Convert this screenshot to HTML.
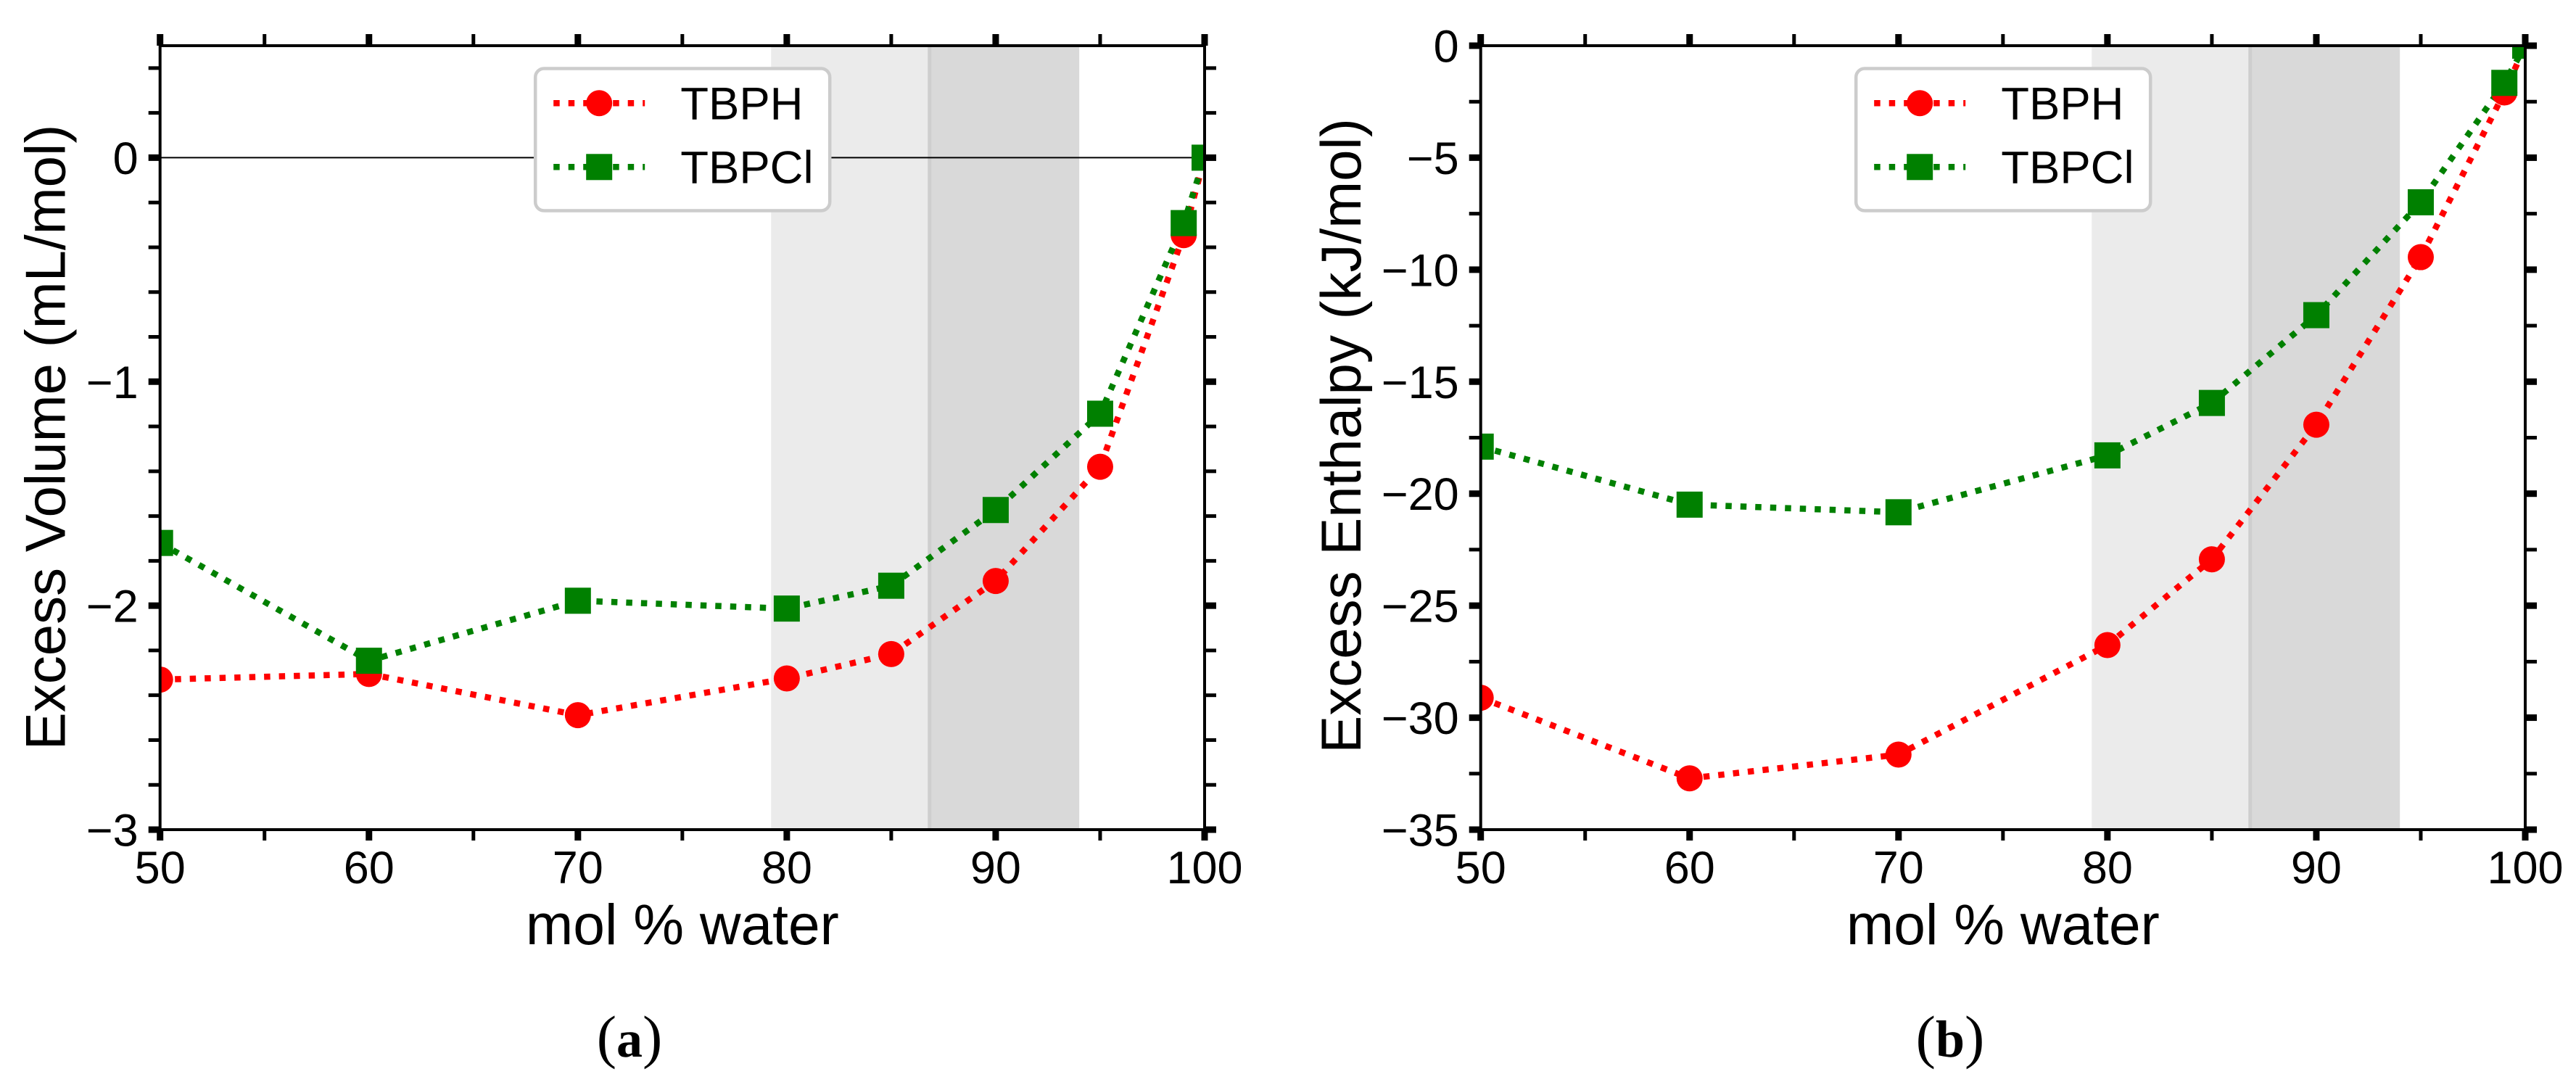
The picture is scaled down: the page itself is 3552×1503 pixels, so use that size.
<!DOCTYPE html>
<html lang="en">
<head>
<meta charset="utf-8">
<title>Excess Volume and Excess Enthalpy vs mol % water</title>
<style>
html,body{margin:0;padding:0;background:#fff;}
svg{display:block;}
text{font-family:"Liberation Sans",Arial,sans-serif;fill:#000;}
.cap{font-family:"Liberation Serif","Times New Roman",serif;}
</style>
</head>
<body>
<svg id="figure" xmlns="http://www.w3.org/2000/svg" width="3552" height="1503" viewBox="0 0 3552 1503"></svg>
<script>
// ---- shared data ----
const waterPct = [50, 60, 70, 80, 85, 90, 95, 99, 100];
const xTickLabels = [50, 60, 70, 80, 90, 100];
const bandLight = [79.25, 86.8];
const bandDark = [86.8, 94];

// ---- panel (a) ----
const volumeTBPH = [-2.33, -2.305, -2.489, -2.325, -2.216, -1.89, -1.38, -0.346, 0];
const volumeTBPCl = [-1.72, -2.246, -1.978, -2.013, -1.911, -1.573, -1.143, -0.292, 0];
const volumeTickLabels = [0, -1, -2, -3];

// ---- panel (b) ----
const enthalpyTBPH = [-29.11, -32.71, -31.65, -26.76, -22.93, -16.92, -9.44, -2.09, 0];
const enthalpyTBPCl = [-17.9, -20.49, -20.83, -18.29, -15.95, -12.03, -6.99, -1.66, 0];
const enthalpyTickLabels = [0, -5, -10, -15, -20, -25, -30, -35];

const SVG_NS = 'http://www.w3.org/2000/svg';
const root = document.getElementById('figure');
const TOP = 63, BOTTOM = 1144, PLOT_W = 1440.3;

function mk(tag, attrs, parent) {
  const el = document.createElementNS(SVG_NS, tag);
  for (const k in attrs) el.setAttribute(k, attrs[k]);
  (parent || root).appendChild(el);
  return el;
}

function seq(start, end, step) {
  const out = [];
  const n = Math.round((end - start) / step);
  for (let i = 0; i <= n; i++) out.push(start + i * step);
  return out;
}

function drawPanel(opt) {
  const g = mk('g', {});
  
  

  const left = opt.left, right = left + PLOT_W;
  const xScale = v => left + (v - 50) / 50 * PLOT_W;
  const yScale = v => TOP + (opt.yMax - v) / (opt.yMax - opt.yMin) * (BOTTOM - TOP);

  const clipId = opt.id + '-clip';
  const defs = mk('defs', {}, g);
  const cp = mk('clipPath', { id: clipId }, defs);
  mk('rect', { x: left, y: TOP, width: PLOT_W, height: BOTTOM - TOP }, cp);

  // shaded composition bands
  const b1 = mk('rect', { x: xScale(bandLight[0]), y: TOP, width: xScale(bandLight[1]) - xScale(bandLight[0]), height: BOTTOM - TOP, fill: '#ebebeb' }, g);
  
  
  const b2 = mk('rect', { x: xScale(bandDark[0]), y: TOP, width: xScale(bandDark[1]) - xScale(bandDark[0]), height: BOTTOM - TOP, fill: '#d9d9d9' }, g);
  
  
  const b3 = mk('rect', { x: xScale(bandDark[0]) - 1.5, y: TOP, width: 5, height: BOTTOM - TOP, fill: '#cecece' }, g);
  
  

  if (opt.zeroLine) {
    const z = mk('line', { x1: left, x2: right, y1: yScale(0), y2: yScale(0), stroke: '#000', 'stroke-width': 2 }, g);
    
    
  }

  // series
  const plot = mk('g', { 'clip-path': 'url(#' + clipId + ')' }, g);
  const series = [
    { name: 'tbph', values: opt.tbph, color: '#ff0000', marker: 'circle' },
    { name: 'tbpcl', values: opt.tbpcl, color: '#008000', marker: 'square' }
  ];
  series.forEach(s => {
    const pts = s.values.map((v, i) => xScale(waterPct[i]).toFixed(1) + ',' + yScale(v).toFixed(1)).join(' ');
    const line = mk('polyline', { points: pts, fill: 'none', stroke: s.color, 'stroke-width': 8.5, 'stroke-dasharray': '8.5 12' }, plot);
    
    
  });
  series.forEach(s => {
    s.values.forEach((v, i) => {
      const cx = xScale(waterPct[i]), cy = yScale(v);
      const m = s.marker === 'circle'
        ? mk('circle', { cx: cx, cy: cy, r: 18, fill: s.color }, plot)
        : mk('rect', { x: cx - 18, y: cy - 18, width: 36, height: 36, fill: s.color }, plot);
      
      
    });
  });

  // legend
  const lx = left + 515.5;
  const lg = mk('g', {}, g);
  
  
  mk('rect', { x: lx + 2, y: 94.5, width: 406, height: 196, rx: 12, ry: 12, fill: '#fff', stroke: '#cccccc', 'stroke-width': 4.5 }, lg);
  const legendItems = [
    { label: 'TBPH', y: 142.3, color: '#ff0000', marker: 'circle', name: 'legend-entry-tbph' },
    { label: 'TBPCl', y: 230.3, color: '#008000', marker: 'square', name: 'legend-entry-tbpcl' }
  ];
  legendItems.forEach(it => {
    const e = mk('g', {}, lg);
    
    
    mk('line', { x1: lx + 27, x2: lx + 153, y1: it.y, y2: it.y, stroke: it.color, 'stroke-width': 8.5, 'stroke-dasharray': '8.5 12' }, e);
    if (it.marker === 'circle') mk('circle', { cx: lx + 90, cy: it.y, r: 18, fill: it.color }, e);
    else mk('rect', { x: lx + 72, y: it.y - 18, width: 36, height: 36, fill: it.color }, e);
    const t = mk('text', { x: lx + 202, y: it.y + 22, 'font-size': 63.5 }, e);
    t.textContent = it.label;
  });

  // ticks
  const ticks = mk('g', { stroke: '#000', fill: 'none' }, g);
  
  
  seq(50, 100, 5).forEach(v => {
    const major = v % 10 === 0;
    const x = xScale(v), w = major ? 9 : 5;
    mk('line', { x1: x, x2: x, y1: BOTTOM, y2: BOTTOM + 15, 'stroke-width': w }, ticks);
    mk('line', { x1: x, x2: x, y1: TOP, y2: TOP - 16, 'stroke-width': w }, ticks);
  });
  seq(0, Math.round((opt.yTickTop - opt.yMin) / opt.yMinorStep), 1).forEach(i => {
    const v = opt.yMin + i * opt.yMinorStep;
    const major = i % opt.yMinorPerMajor === 0;
    const y = yScale(v), w = major ? 9 : 5;
    mk('line', { x1: left - 16, x2: left, y1: y, y2: y, 'stroke-width': w }, ticks);
    mk('line', { x1: right, x2: right + 16, y1: y, y2: y, 'stroke-width': w }, ticks);
  });

  // spines
  const sp = mk('rect', { x: left, y: TOP, width: PLOT_W, height: BOTTOM - TOP, fill: 'none', stroke: '#000', 'stroke-width': 4 }, g);
  
  

  // tick labels
  xTickLabels.forEach(v => {
    const t = mk('text', { x: xScale(v), y: 1218, 'font-size': 63, 'text-anchor': 'middle' }, g);
    
    
    t.textContent = String(v);
  });
  opt.yLabels.forEach(v => {
    const t = mk('text', { x: left - 30, y: yScale(v) + 22.5, 'font-size': 63, 'text-anchor': 'end' }, g);
    
    
    t.textContent = String(v).replace('-', '\u2212');
  });

  // axis titles
  const xt = mk('text', { x: left + PLOT_W / 2, y: 1302, 'font-size': 78.5, 'text-anchor': 'middle' }, g);
  
  
  xt.textContent = 'mol % water';

  const yt = mk('text', { x: 0, y: 0, 'font-size': 78, 'text-anchor': 'middle', transform: 'translate(' + opt.yTitleX + ',' + opt.yTitleY + ') rotate(-90)' }, g);
  
  
  yt.textContent = opt.yTitle;

  // caption
  const cap = mk('text', { x: opt.capX, y: 1457, 'font-size': 82, 'text-anchor': 'middle', class: 'cap' }, g);
  
  
  const t1 = mk('tspan', {}, cap); t1.textContent = '(';
  const t2 = mk('tspan', { 'font-weight': 'bold', 'font-size': 72 }, cap); t2.textContent = opt.capLetter;
  const t3 = mk('tspan', {}, cap); t3.textContent = ')';
}

drawPanel({
  id: 'panel-excess-volume', left: 220.7, yMin: -3, yMax: 0.5, yTickTop: 0.4,
  yMinorStep: 0.2, yMinorPerMajor: 5, zeroLine: true,
  tbph: volumeTBPH, tbpcl: volumeTBPCl, yLabels: volumeTickLabels,
  yTitle: 'Excess Volume (mL/mol)', yTitleX: 89.5, yTitleY: 603,
  capX: 868, capLetter: 'a'
});
drawPanel({
  id: 'panel-excess-enthalpy', left: 2041.7, yMin: -35, yMax: 0, yTickTop: 0,
  yMinorStep: 2.5, yMinorPerMajor: 2, zeroLine: false,
  tbph: enthalpyTBPH, tbpcl: enthalpyTBPCl, yLabels: enthalpyTickLabels,
  yTitle: 'Excess Enthalpy (kJ/mol)', yTitleX: 1876, yTitleY: 601,
  capX: 2689, capLetter: 'b'
});
</script>
</body>
</html>
